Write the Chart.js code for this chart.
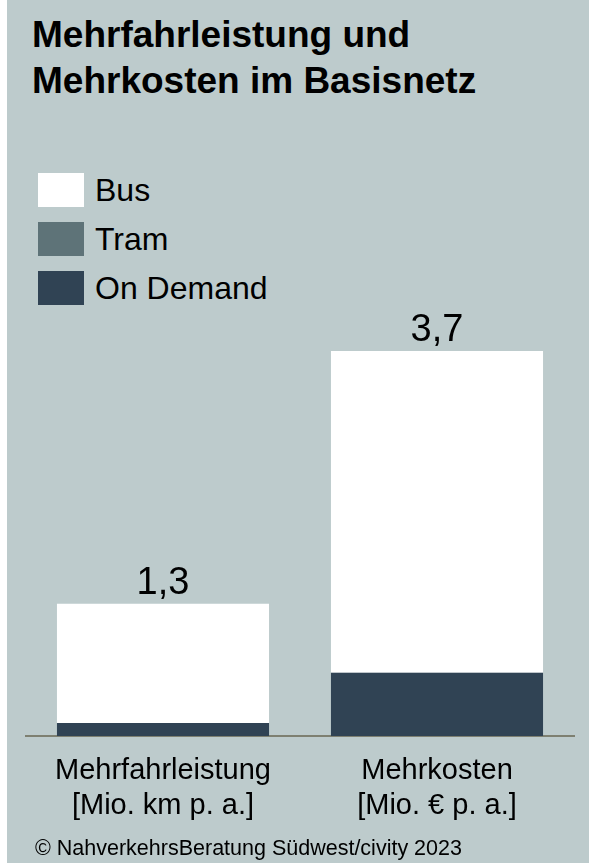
<!DOCTYPE html>
<html>
<head>
<meta charset="utf-8">
<script src="https://cdn.jsdelivr.net/npm/chart.js@4"></script>
<style>
html,body{margin:0;padding:0;background:#ffffff;}
#panel{position:absolute;left:7px;top:0;width:582px;height:863px;background:#bdcbcc;font-family:"Liberation Sans",Arial,sans-serif;color:#000;overflow:hidden;}
#title{position:absolute;left:25px;top:12px;font-size:37px;line-height:46px;font-weight:bold;margin:0;white-space:nowrap;}
#legend{position:absolute;left:31px;top:173px;}
.item{display:flex;align-items:center;height:34px;margin-bottom:15px;font-size:32px;white-space:nowrap;}
.box{width:46px;height:34px;margin-right:11px;flex:none;}
#footer{position:absolute;left:28px;top:836px;font-size:21.5px;white-space:nowrap;}
canvas{position:absolute;left:0;top:0;}
</style>
</head>
<body>
<div id="panel">
  <div id="title">Mehrfahrleistung und<br>Mehrkosten im Basisnetz</div>
  <div id="legend"></div>
  <canvas id="c" width="582" height="863"></canvas>
  <div id="footer">© NahverkehrsBeratung Südwest/civity 2023</div>
</div>
<script>
// ---- data ----
const categories = [
  ["Mehrfahrleistung", "[Mio. km p. a.]"],
  ["Mehrkosten", "[Mio. € p. a.]"]
];
const seriesNames = ["On Demand", "Tram", "Bus"];
const onDemand = [0.125, 0.61];
const tram = [0, 0];
const bus = [1.15, 3.1];
const seriesColors = ["#304354", "#5e7378", "#ffffff"];

const seriesValues = [onDemand, tram, bus];

const datasets = seriesNames.map((name, i) => ({
  label: name,
  data: seriesValues[i],
  backgroundColor: seriesColors[i],
  borderWidth: 0,
  barPercentage: 0.774,
  categoryPercentage: 1.0
}));

// HTML legend (Bus, Tram, On Demand)
const legendEl = document.getElementById('legend');
for (let i = datasets.length - 1; i >= 0; i--) {
  const item = document.createElement('div');
  item.className = 'item';
  const box = document.createElement('div');
  box.className = 'box';
  box.style.background = datasets[i].backgroundColor;
  const txt = document.createElement('span');
  txt.textContent = datasets[i].label;
  item.appendChild(box);
  item.appendChild(txt);
  legendEl.appendChild(item);
}

const totalsPlugin = {
  id: 'totals',
  afterDatasetsDraw(chart) {
    const ctx = chart.ctx;
    const yScale = chart.scales.y;
    const meta = chart.getDatasetMeta(chart.data.datasets.length - 1);
    ctx.save();
    ctx.font = '38px "Liberation Sans", Arial, sans-serif';
    ctx.fillStyle = '#000';
    ctx.textAlign = 'center';
    ctx.textBaseline = 'alphabetic';
    categories.forEach((c, i) => {
      let total = 0;
      chart.data.datasets.forEach(ds => { total += ds.data[i]; });
      const x = meta.data[i].x;
      const y = yScale.getPixelForValue(total);
      ctx.fillText(total.toFixed(1).replace('.', ','), x, y - 10);
    });
    ctx.restore();
  }
};

new Chart(document.getElementById('c'), {
  type: 'bar',
  data: { labels: categories, datasets: datasets },
  options: {
    responsive: false,
    animation: false,
    devicePixelRatio: 1,
    layout: { padding: { left: 19, right: 15, top: 321, bottom: 27 } },
    plugins: { legend: { display: false }, title: { display: false }, tooltip: { enabled: false } },
    scales: {
      x: {
        stacked: true,
        z: 1,
        grid: { display: false },
        border: { display: true, color: '#7e8071', width: 2 },
        ticks: {
          color: '#000',
          padding: 10,
          maxRotation: 0,
          autoSkip: false,
          font: { family: '"Liberation Sans", Arial, sans-serif', size: 29, lineHeight: 1.2 }
        },
        afterFit(scale) { scale.height = 100; }
      },
      y: {
        stacked: true,
        display: false,
        min: 0,
        max: 4
      }
    }
  },
  plugins: [totalsPlugin]
});
</script>
</body>
</html>
